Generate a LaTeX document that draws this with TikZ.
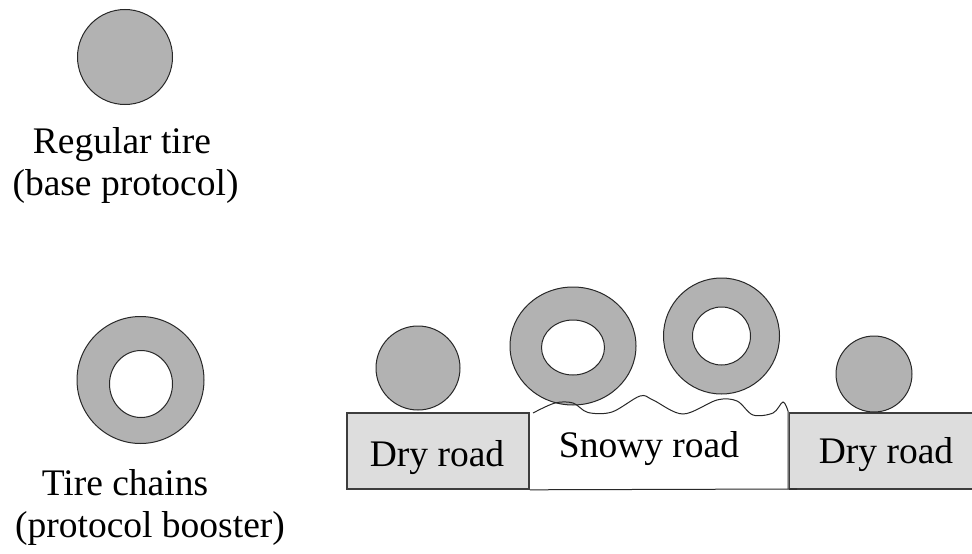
\documentclass[tikz,border=0pt]{standalone}
\usepackage{fontspec}
\setmainfont{Liberation Serif}
\usetikzlibrary{shapes.geometric, positioning}
\definecolor{tiregray}{RGB}{178,178,178}
\definecolor{drygray}{RGB}{221,221,221}
\definecolor{edgegray}{RGB}{40,40,40}
\tikzset{
	tire/.style={ellipse, draw=edgegray, line width=1pt, fill=tiregray, inner sep=0pt},
	hole/.style={tire, fill=white},
	dryroad/.style={rectangle, draw=edgegray!90, line width=1.6pt, fill=drygray, minimum height=76pt},
	bigtext/.style={anchor=base, inner sep=0pt, font=\fontsize{37.5}{42}\selectfont},
	snowline/.style={draw=edgegray, line width=1pt}
}

\begin{document}
\begin{tikzpicture}[x=1pt, y=-1pt]
	\useasboundingbox (0,0) rectangle (972,554);
	\clip (0,0) rectangle (972,554);

	% the two kinds of tire
	\node[tire, minimum width=95pt, minimum height=95pt] (plain) at (125,57) {};
	\node[bigtext] (plainA) at (122,153) {Regular tire};
	\node[bigtext] (plainB) at (125.5,195) {(base protocol)};

	\node[tire, minimum width=127pt, minimum height=127pt] (chain) at (140.5,380) {};
	\node[hole, minimum width=63pt, minimum height=67pt] (chainhole) at (141,384) {};
	\node[bigtext] (chainA) at (125,495) {Tire chains};
	\node[bigtext] (chainB) at (150,537) {(protocol booster)};

	% road
	\node[dryroad, minimum width=182pt] (dryL) at (438,451) {};
	\node[dryroad, minimum width=210pt] (dryR) at (894.5,451) {};
	\coordinate (snowTL) at (533,413);
	\coordinate (snowTR) at (788,411);
	\coordinate (snowBR) at (788,489);
	\draw[snowline] (dryL.south east) -- (797,489);

	% tires driving across
	\node[tire, minimum width=84pt, minimum height=84pt] (car1) at (418,368) {};
	\node[tire, minimum width=126pt, minimum height=118pt] (car2) at (573,346) {};
	\node[hole, minimum width=63pt, minimum height=55pt] (car2hole) at (573,347.5) {};
	\node[tire, minimum width=116pt, minimum height=116pt] (car3) at (721.5,336) {};
	\node[hole, minimum width=58pt, minimum height=58pt] (car3hole) at (721.5,336) {};
	\node[tire, minimum width=76pt, minimum height=76pt] (car4) at (874,374) {};

	% snow surface
	\draw[snowline] plot[smooth, tension=0.55] coordinates {
		(snowTL) (555,403) (573,403) (588,412.5) (612,412) (640,396) (653,400)
		(683,414) (717,400) (737,401) (753,415) (773,413) (783,402) (snowTR)}
		-- (snowBR);

	\node[bigtext] (dryLtext) at (437,466) {Dry road};
	\node[bigtext] (snowtext) at (649,457) {Snowy road};
	\node[bigtext] (dryRtext) at (886,463) {Dry road};
\end{tikzpicture}
\end{document}
